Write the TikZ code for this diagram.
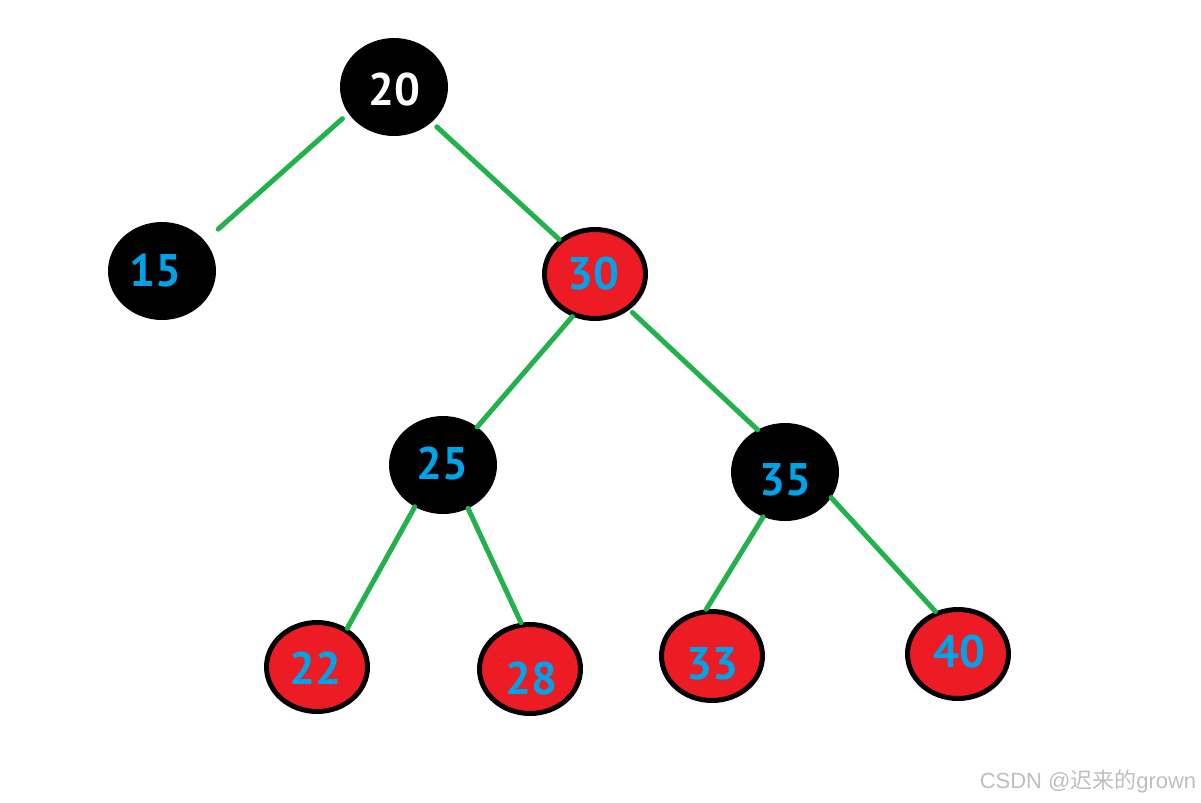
\documentclass[tikz,border=0pt]{standalone}
\usepackage{fontspec}
\usetikzlibrary{shapes.geometric}
\newfontfamily\lblfont{PT Sans}
\newfontfamily\wmfont{Liberation Sans}
\newfontfamily\cjk{Noto Sans CJK SC}
\definecolor{edgegreen}{RGB}{34,177,76}
\definecolor{nodered}{RGB}{237,28,36}
\definecolor{numblue}{RGB}{0,162,232}
\definecolor{wmgray}{RGB}{190,190,190}
\tikzset{
  blacknode/.style={ellipse, draw=black, fill=black, line width=0.1cm, inner sep=0pt,
    minimum width=2.06cm, minimum height=1.86cm},
  rednode/.style={ellipse, draw=black, fill=nodered, line width=0.1cm, inner sep=0pt,
    minimum width=2.02cm, minimum height=1.78cm},
  num/.style={inner sep=0pt, font=\lblfont\bfseries\fontsize{26}{26}\selectfont, text=numblue},
  edge/.style={draw=edgegreen, line width=0.1cm, line cap=round},
}
\begin{document}
\begin{tikzpicture}[x=0.02cm, y=-0.02cm]
\useasboundingbox (0,0) rectangle (1201,802);
\coordinate (c20) at (394,87);
\coordinate (c15) at (162,271);
\coordinate (c30) at (595,274);
\coordinate (c25) at (443,465);
\coordinate (c35) at (785,472);
\coordinate (c22) at (317,667);
\coordinate (c28) at (530,669);
\coordinate (c33) at (712,656);
\coordinate (c40) at (958,654);
\node[blacknode] (n20) at (c20) {};
\node[blacknode] (n15) at (c15) {};
\node[rednode]   (n30) at (c30) {};
\node[blacknode] (n25) at (c25) {};
\node[blacknode] (n35) at (c35) {};
\node[rednode]   (n22) at (c22) {};
\node[rednode]   (n28) at (c28) {};
\node[rednode]   (n33) at (c33) {};
\node[rednode]   (n40) at (c40) {};
\draw[edge, shorten <=0.16cm, shorten >=0.36cm] (n20.210) -- (n15.35.5);
\draw[edge, shorten <=0.14cm] (n20.-43) -- (n30.136.5);
\draw[edge] (n30.242.4) -- (n25.48.3);
\draw[edge, shorten <=0.08cm] (n30.-46.5) -- (n35.123.7);
\draw[edge] (n25.236) -- (n22.52.1);
\draw[edge] (n25.-60.4) -- (n28.101.5);
\draw[edge] (n35.244.6) -- (n33.97.5);
\draw[edge] (n35.-29.2) -- (n40.118.8);
\node[num, text=white] (t20) at (394,90) {20};
\node[num] (t15) at (155,271) {15};
\node[num] (t30) at (593,274) {30};
\node[num] (t25) at (442,464) {25};
\node[num] (t35) at (785,480) {35};
\node[num] (t22) at (315,668) {22};
\node[num] (t28) at (531,679) {28};
\node[num] (t33) at (712,664) {33};
\node[num] (t40) at (959,652) {40};
\node[text=wmgray, inner sep=0pt, font=\wmfont\fontsize{12.5}{12.5}\selectfont] (wm) at (1088,781) {CSDN @{\cjk 迟来的}grown};
\end{tikzpicture}
\end{document}
